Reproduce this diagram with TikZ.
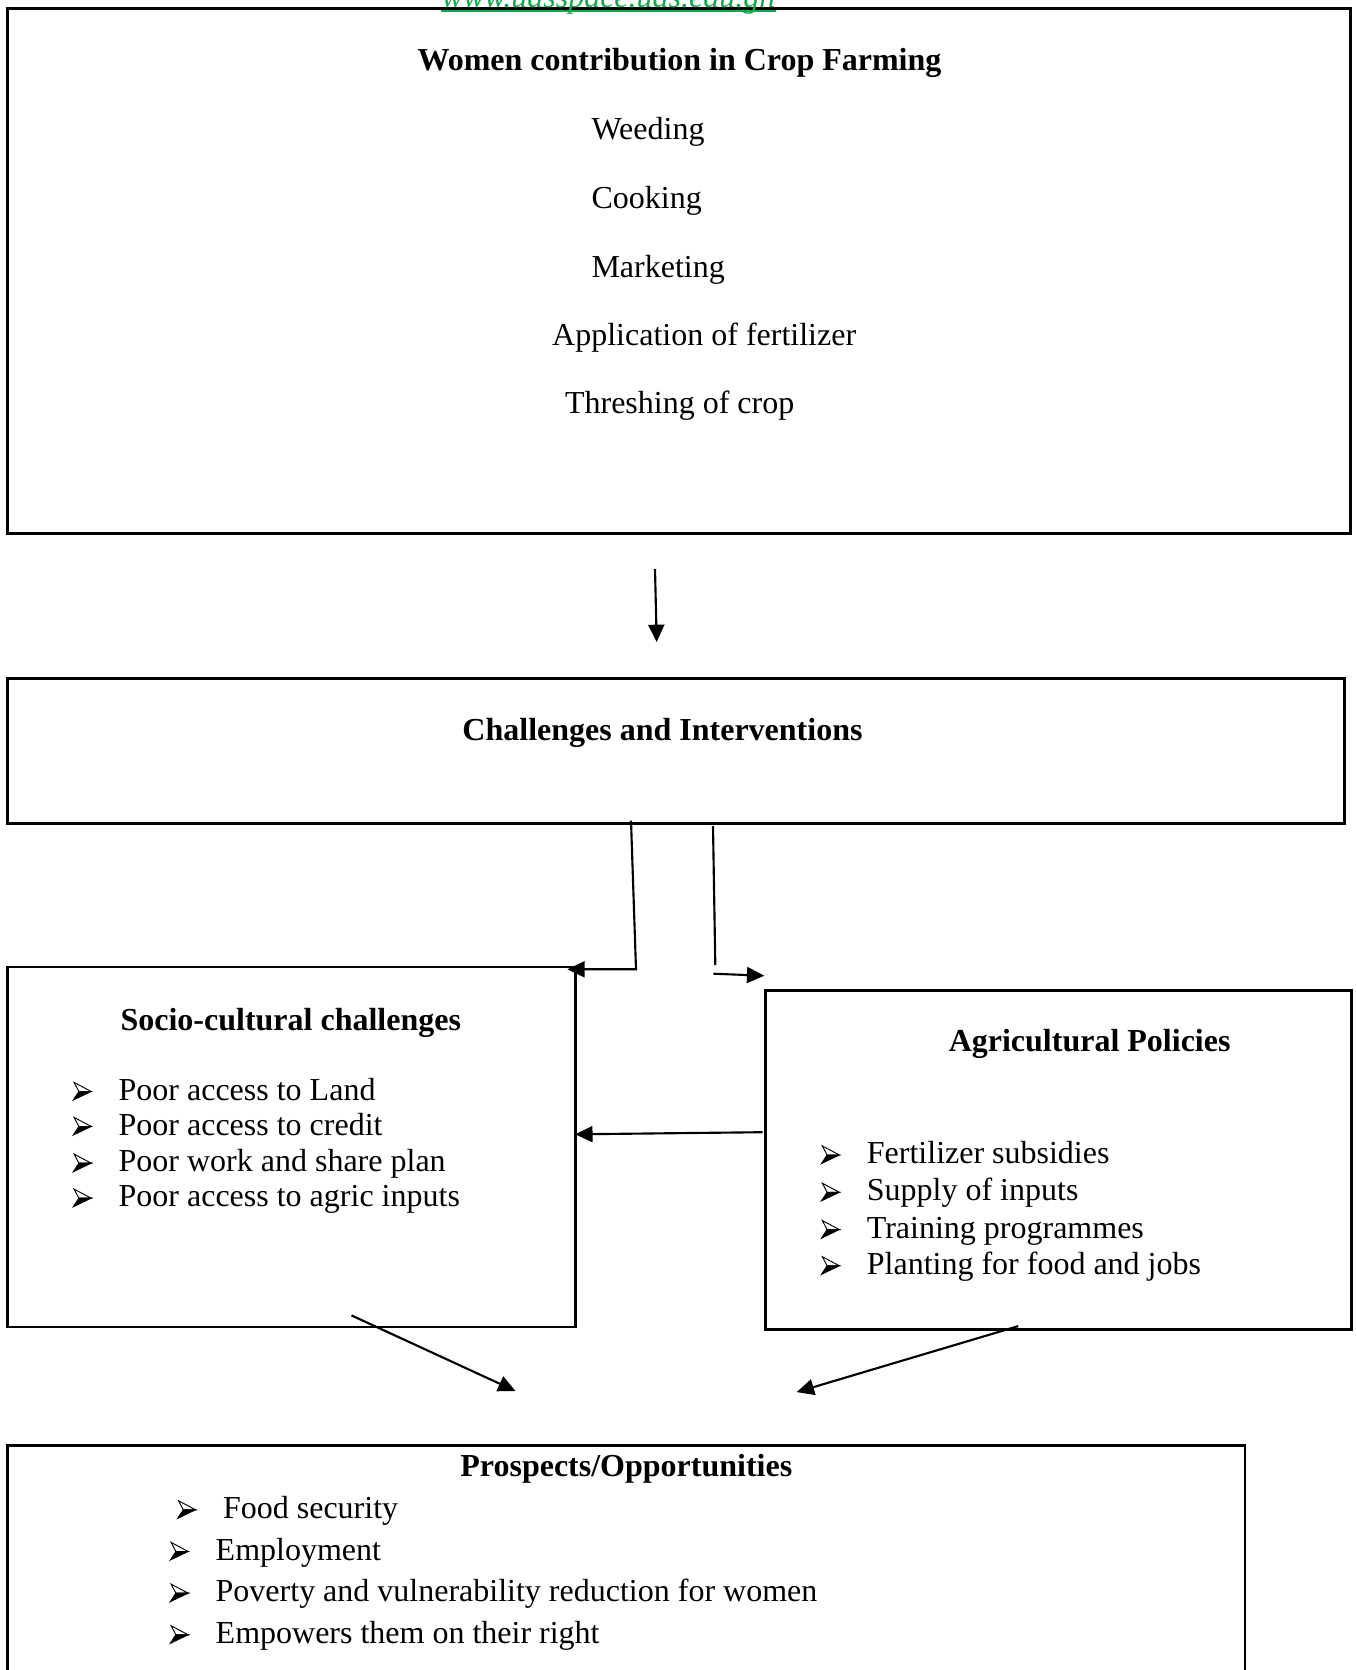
\documentclass[tikz,border=0pt,12pt]{standalone}
\usepackage{tkz-euclide}
\usepackage{fontspec}
\setmainfont{Liberation Serif}
\usetikzlibrary{arrows.meta}
\definecolor{urlgreen}{RGB}{20,170,75}
\newcommand{\bul}{\makebox[17.2pt][l]{\tikz[baseline=0pt,line width=0.35pt]{%
  \filldraw[fill=white] (0.3pt,6.6pt) -- (6.7pt,3.2pt) -- (2.1pt,3.2pt) -- cycle;
  \filldraw (0pt,0pt) -- (6.7pt,3.2pt) -- (2.1pt,3.2pt) -- cycle;}}}

\begin{document}
\begin{tikzpicture}[
        x=37.5pt, y=-37.5pt,
        box/.style={draw, line width=1pt},
        ttl/.style={font=\bfseries, anchor=base},
        itm/.style={anchor=base west, inner sep=0pt},
        arr/.style={line width=0.8pt, -{Triangle[length=6.5pt,width=6pt]}}]
        % 初始化
        \useasboundingbox (0,0) rectangle (13.57,16.70);
        \clip (0,0) rectangle (13.57,16.70);
        % 定义各方框的角点
        \tkzDefPoints{0.075/0.085/A1, 13.506/5.336/A2, 0.075/6.785/B1, 13.442/8.233/B2}
        \tkzDefPoints{0.075/9.671/C1, 5.752/13.271/C2, 7.658/9.906/D1, 13.516/13.292/D2}
        \tkzDefPoints{0.075/14.453/E1, 12.451/17.2/E2}
        % 绘制方框
        \draw[box] (A1) rectangle (A2);
        \draw[box] (B1) rectangle (B2);
        \draw[box] (C1) rectangle (C2);
        \draw[box] (D1) rectangle (D2);
        \draw[box] (E1) rectangle (E2);
        % 网址
        \node[anchor=base, inner sep=0pt, text=urlgreen, font=\itshape] (url) at (6.085,0.075)
          {www.udsspace.uds.edu.gh};
        \draw[urlgreen, line width=0.6pt] ([yshift=-1.4pt]url.base west) -- ([yshift=-1.4pt]url.base east);
        % 第一个方框
        \node[ttl] (crop) at (6.795,0.70) {Women contribution in Crop Farming};
        \node[itm] (weed) at (5.91,1.39) {Weeding};
        \node[itm] (cook) at (5.91,2.08) {Cooking};
        \node[itm] (mark) at (5.91,2.77) {Marketing};
        \node[itm] (fert) at (5.517,3.455) {Application of fertilizer};
        \node[itm] (thre) at (5.645,4.137) {Threshing of crop};
        % 第二个方框
        \node[ttl] (chal) at (6.625,7.407) {Challenges and Interventions};
        % 左方框
        \node[ttl] (soci) at (2.908,10.304) {Socio-cultural challenges};
        \node[itm] (land) at (0.723,11.00) {\bul Poor access to Land};
        \node[itm] (cred) at (0.723,11.35) {\bul Poor access to credit};
        \node[itm] (plan) at (0.723,11.717) {\bul Poor work and share plan};
        \node[itm] (inpu) at (0.723,12.067) {\bul Poor access to agric inputs};
        % 右方框
        \node[ttl] (poli) at (10.896,10.517) {Agricultural Policies};
        \node[itm] (subs) at (8.205,11.635) {\bul Fertilizer subsidies};
        \node[itm] (supp) at (8.205,12.008) {\bul Supply of inputs};
        \node[itm] (trai) at (8.205,12.381) {\bul Training programmes};
        \node[itm] (jobs) at (8.205,12.743) {\bul Planting for food and jobs};
        % 底部方框
        \node[ttl] (pros) at (6.263,14.766) {Prospects/Opportunities};
        \node[itm] (food) at (1.767,15.183) {\bul Food security};
        \node[itm] (empl) at (1.693,15.60) {\bul Employment};
        \node[itm] (pove) at (1.693,16.017) {\bul Poverty and vulnerability reduction for women};
        \node[itm] (righ) at (1.693,16.433) {\bul Empowers them on their right};
        % 定义箭头端点
        \tkzDefPoints{6.55/5.69/s1, 6.567/6.42/t1, 6.31/8.207/s2, 6.36/9.693/k2, 5.673/9.693/t2}
        \tkzDefPoints{7.13/8.26/s3, 7.153/9.65/k3, 7.133/9.737/s4, 7.643/9.757/t4}
        \tkzDefPoints{7.626/11.322/s5, 5.752/11.343/t5, 3.515/13.154/s6, 5.155/13.91/t6}
        \tkzDefPoints{10.182/13.261/s7, 7.967/13.921/t7}
        % 绘制箭头
        \draw[arr] (s1) -- (t1);
        \draw[arr] (s2) -- (k2) -- (t2);
        \draw[line width=0.8pt] (s3) -- (k3);
        \draw[arr] (s4) -- (t4);
        \draw[arr] (s5) -- (t5);
        \draw[arr] (s6) -- (t6);
        \draw[arr] (s7) -- (t7);
      \end{tikzpicture}
\end{document}
